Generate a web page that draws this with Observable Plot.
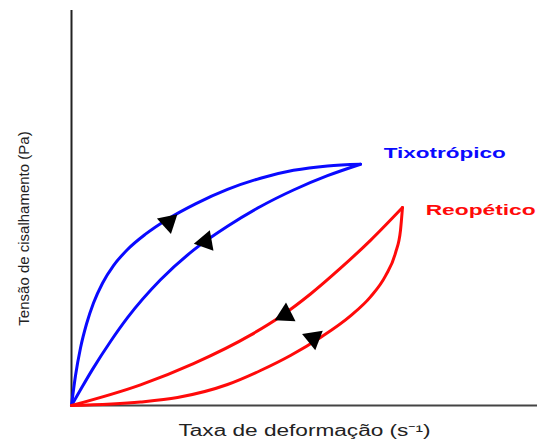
<!DOCTYPE html>
<html>
<head>
<meta charset="utf-8">
<script src="https://cdn.jsdelivr.net/npm/d3@7"></script>
<script src="https://cdn.jsdelivr.net/npm/@observablehq/plot@0.6"></script>
<style>
  html, body { margin: 0; padding: 0; background: #fff; }
  #chart svg { display: block; }
</style>
</head>
<body>
<div id="chart"></div>
<script>
// Series names and colours
const seriesNames = ["Tixotrópico", "Reopético"];
const seriesColors = ["#0a0aff", "#ff0a0a"];

// Thixotropic loop (shear rate, shear stress): upper curve and lower curve
const tixoUpX = [0, 0.86, 1.93, 3.22, 4.72, 6.65, 9.01, 12.02, 15.88, 20.60, 26.61, 33.48, 40.56, 47.64, 54.94, 62.02];
const tixoUpY = [0, 7.59, 14.56, 20.63, 25.95, 30.96, 35.42, 39.49, 43.37, 47.16, 51.06, 54.71, 57.54, 59.54, 60.66, 61.08];
const tixoDownX = [0, 1.93, 4.51, 8.37, 12.02, 19.10, 26.18, 33.48, 40.56, 47.64, 54.94, 62.02];
const tixoDownY = [0, 3.97, 9.14, 16.20, 22.23, 31.82, 39.34, 45.37, 50.38, 54.56, 58.18, 61.08];

// Rheopectic loop: upper curve and lower curve
const reoUpperX = [0, 14.81, 26.18, 38.41, 44.85, 51.29, 57.73, 64.16, 71.03];
const reoUpperY = [0, 5.24, 10.61, 17.82, 22.53, 28.23, 34.76, 41.82, 50.13];
const reoLowerX = [0, 14.81, 22.75, 33.48, 40.56, 46.99, 53.43, 59.87, 64.16, 67.38, 69.53, 70.60, 71.03];
const reoLowerY = [0, 0.89, 2.03, 5.32, 8.86, 12.66, 17.22, 22.68, 27.49, 32.81, 38.63, 44.33, 50.13];

// Arrow heads on the curves
const arrowX = [20.8, 28.8, 45.9, 51.9];
const arrowY = [46.4, 41.5, 23.0, 17.0];
const arrowAngle = [-72, -100, -117, -69];

// Series label anchors
const labelX = [67.0, 76.0];
const labelY = [63.8, 49.4];

// Axis titles
const xTitle = "Taxa de deformação (s⁻¹)";
const yTitle = "Tensão de cisalhamento (Pa)";

const curves = [
  {s: 0, xs: tixoUpX, ys: tixoUpY},
  {s: 0, xs: tixoDownX, ys: tixoDownY},
  {s: 1, xs: reoUpperX, ys: reoUpperY},
  {s: 1, xs: reoLowerX, ys: reoLowerY}
];
const pts = curves.flatMap((c, ci) => c.xs.map((x, i) => ({x, y: c.ys[i], id: ci, color: seriesColors[c.s]})));
const arrows = arrowX.map((x, i) => ({x, y: arrowY[i], a: arrowAngle[i]}));
const labels = seriesNames.map((name, i) => ({name, x: labelX[i], y: labelY[i], color: seriesColors[i]}));

const font = "'Liberation Sans', Arial, sans-serif";

const chart = Plot.plot({
  width: 538,
  height: 445,
  marginLeft: 71,
  marginRight: 1,
  marginTop: 10,
  marginBottom: 40,
  style: {fontFamily: font, background: "#fff"},
  x: {domain: [0, 100], axis: null},
  y: {domain: [0, 100], axis: null},
  marks: [
    Plot.ruleX([0], {stroke: "#222", strokeWidth: 2}),
    Plot.ruleY([0], {stroke: "#444", strokeWidth: 2}),
    Plot.line(pts, {x: "x", y: "y", z: "id", stroke: "color", strokeWidth: 3, curve: "monotone-x"}),
    Plot.dot(arrows, {x: "x", y: "y", symbol: "triangle2", r: 10, fill: "black", stroke: "none", rotate: "a"}),
    Plot.text(labels, {x: "x", y: "y", text: "name", fill: "color", textAnchor: "start", fontSize: 14, fontWeight: "bold"}),
    Plot.text([xTitle], {frameAnchor: "bottom", textAnchor: "middle", dy: 30, fontSize: 16, fill: "#222"}),
    Plot.text([yTitle], {frameAnchor: "left", textAnchor: "middle", dx: -47, dy: 20.5, rotate: -90, fontSize: 15, fill: "#222"})
  ]
});

// Horizontal stretch of the horizontal texts, as in the original image
const stretch = {"Tixotrópico": 122, "Reopético": 110};
stretch[xTitle] = 252;
d3.select(chart).selectAll("text").each(function() {
  const t = this.textContent;
  if (stretch[t]) {
    this.setAttribute("textLength", stretch[t]);
    this.setAttribute("lengthAdjust", "spacingAndGlyphs");
  }
});
document.getElementById("chart").appendChild(chart);
</script>
</body>
</html>
